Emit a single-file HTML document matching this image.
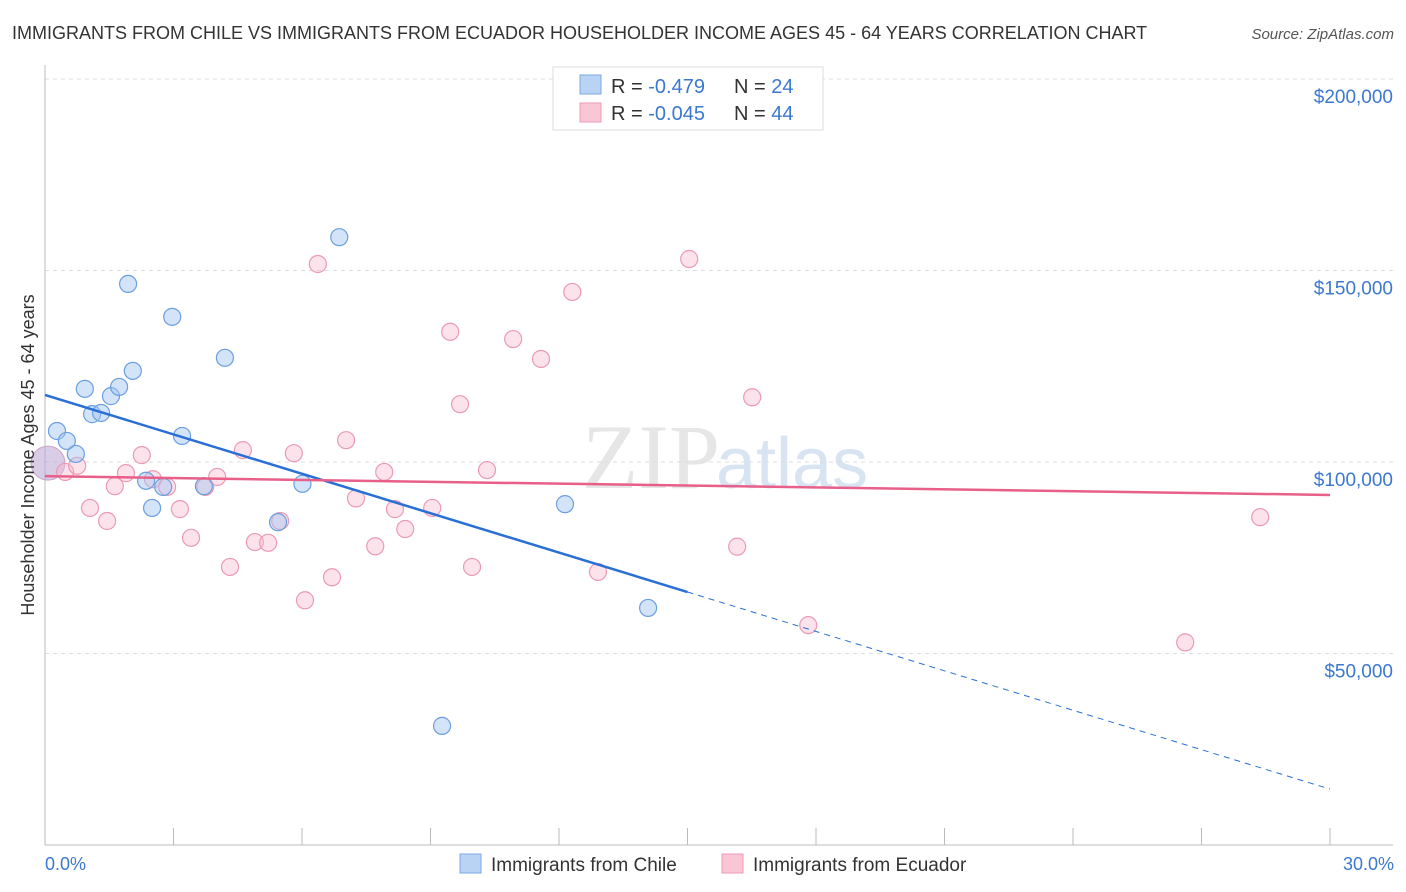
<!DOCTYPE html>
<html><head><meta charset="utf-8"><style>
body{margin:0;background:#fff;font-family:"Liberation Sans",sans-serif}
svg{display:block}
</style></head><body>
<svg width="1406" height="892" viewBox="0 0 1406 892">
<text x="12" y="39" font-size="18" fill="#333">IMMIGRANTS FROM CHILE VS IMMIGRANTS FROM ECUADOR HOUSEHOLDER INCOME AGES 45 - 64 YEARS CORRELATION CHART</text>
<text x="1394" y="39" font-size="15" fill="#555" font-style="italic" text-anchor="end">Source: ZipAtlas.com</text>
<text x="720" y="488" font-size="92" fill="#e6e6e6" text-anchor="end" font-family="Liberation Serif,serif">ZIP</text>
<text x="716" y="488" font-size="72" fill="#d8e4f2">atlas</text>
<g id="grid"></g>
<g id="axes"></g>
<g id="pts"></g>
<g id="lines"></g>
<text transform="translate(34,455) rotate(-90)" font-size="18" fill="#333" text-anchor="middle">Householder Income Ages 45 - 64 years</text>
<text x="45" y="870" font-size="18" fill="#3b78d0">0.0%</text>
<text x="1394" y="870" font-size="18" fill="#3b78d0" text-anchor="end">30.0%</text>
<g>
<rect x="553" y="67" width="270" height="63" fill="#fff" stroke="#ddd"/>
<rect x="580" y="75" width="21" height="19" fill="#b9d3f5" stroke="#7aa8e6"/>
<rect x="580" y="103" width="21" height="19" fill="#fac6d5" stroke="#ee9ab3"/>
<text x="611" y="93" font-size="20" fill="#333">R = <tspan fill="#3b78d0">-0.479</tspan><tspan x="734">N = </tspan><tspan fill="#3b78d0">24</tspan></text>
<text x="611" y="120" font-size="20" fill="#333">R = <tspan fill="#3b78d0">-0.045</tspan><tspan x="734">N = </tspan><tspan fill="#3b78d0">44</tspan></text>
</g>
<g>
<rect x="460" y="854" width="21" height="19" fill="#b9d3f5" stroke="#7aa8e6"/>
<text x="491" y="871" font-size="19" fill="#333">Immigrants from Chile</text>
<rect x="722" y="854" width="21" height="19" fill="#fac6d5" stroke="#ee9ab3"/>
<text x="753" y="871" font-size="19" fill="#333">Immigrants from Ecuador</text>
</g>
</svg>
<script>
const yTicks=[50000,100000,150000,200000];
const yTickLabels=["$50,000","$100,000","$150,000","$200,000"];
const xTicks=[0,3,6,9,12,15,18,21,24,27,30];
const chileX=[0.28,0.51,0.72,0.93,1.10,1.31,1.54,1.73,1.94,2.05,2.36,2.50,2.76,2.97,3.20,3.71,4.20,5.44,6.01,6.87,9.27,12.14,14.08];
const chileY=[108.1,105.5,102.1,119.1,112.5,112.8,117.2,119.6,146.5,123.8,95.1,88.0,93.5,137.9,106.8,93.7,127.2,84.3,94.3,158.7,31.1,89.0,61.9];
const ecuX=[0.47,0.75,1.05,1.45,1.63,1.89,2.26,2.52,2.85,3.15,3.41,3.74,4.02,4.32,4.62,4.90,5.21,5.49,5.81,6.07,6.37,6.70,7.03,7.26,7.71,7.92,8.17,8.41,9.04,9.46,9.69,9.97,10.32,10.93,11.58,12.31,12.91,15.04,16.16,16.51,17.82,26.62,28.37];
const ecuY=[97.4,99.0,88.0,84.6,93.7,97.1,101.8,95.5,93.5,87.7,80.2,93.5,96.1,72.6,103.1,79.1,78.9,84.6,102.3,63.9,151.7,69.9,105.7,90.5,78.0,97.4,87.7,82.5,88.0,134.0,115.1,72.6,97.9,132.1,126.9,144.4,71.3,153.0,77.9,116.9,57.4,52.9,85.6];
const chileTrend=[117.5,14.6]; // y at x=0 and x=30 (k$)
const ecuTrend=[96.3,91.4];
const NS="http://www.w3.org/2000/svg";
const sx=v=>45+v/30*1285;
const sy=v=>845-v/1000/50*191.5;
const syk=v=>845-v/50*191.5;
function mk(tag,attrs,parent){const e=document.createElementNS(NS,tag);for(const k in attrs)e.setAttribute(k,attrs[k]);document.getElementById(parent).appendChild(e);return e;}
yTicks.forEach((t,i)=>{
 const l=mk('line',{x1:45,x2:1393,y1:sy(t),y2:sy(t),stroke:'#ddd','stroke-dasharray':'4,4'},'grid');
 
 
 const tx=mk('text',{x:1393,y:sy(t)+24,'font-size':19,fill:'#3b78d0','text-anchor':'end'},'grid');
 tx.textContent=yTickLabels[i];
 
 
});
const ya=mk('line',{x1:45,x2:45,y1:65,y2:845,stroke:'#bbb'},'axes');


const xa=mk('line',{x1:45,x2:1393,y1:845,y2:845,stroke:'#bbb'},'axes');


xTicks.forEach(t=>{
 const l=mk('line',{x1:sx(t),x2:sx(t),y1:828,y2:845,stroke:'#bbb'},'axes');
 
 
});
const big=mk('circle',{cx:sx(0.07),cy:syk(99.7),r:17,fill:'rgba(190,170,215,0.6)',stroke:'#c9a3c8'},'pts');


ecuX.forEach((x,i)=>{
 const c=mk('circle',{cx:sx(x),cy:syk(ecuY[i]),r:8.5,fill:'rgba(248,185,205,0.4)',stroke:'#eb9ab4','stroke-width':1.2},'pts');
 
 
});
chileX.forEach((x,i)=>{
 const c=mk('circle',{cx:sx(x),cy:syk(chileY[i]),r:8.5,fill:'rgba(160,195,240,0.45)',stroke:'#6b9fe0','stroke-width':1.2},'pts');
 
 
});
const ct=x=>chileTrend[0]+(chileTrend[1]-chileTrend[0])*x/30;
const l1=mk('line',{x1:sx(0),y1:syk(ct(0)),x2:sx(15),y2:syk(ct(15)),stroke:'#2a6fd6','stroke-width':2.5},'lines');


const l2=mk('line',{x1:sx(15),y1:syk(ct(15)),x2:sx(30),y2:syk(ct(30)),stroke:'#2a6fd6','stroke-width':1,'stroke-dasharray':'6,5'},'lines');


const l3=mk('line',{x1:sx(0),y1:syk(ecuTrend[0]),x2:sx(30),y2:syk(ecuTrend[1]),stroke:'#e8608a','stroke-width':2.5},'lines');


</script>
</body></html>
